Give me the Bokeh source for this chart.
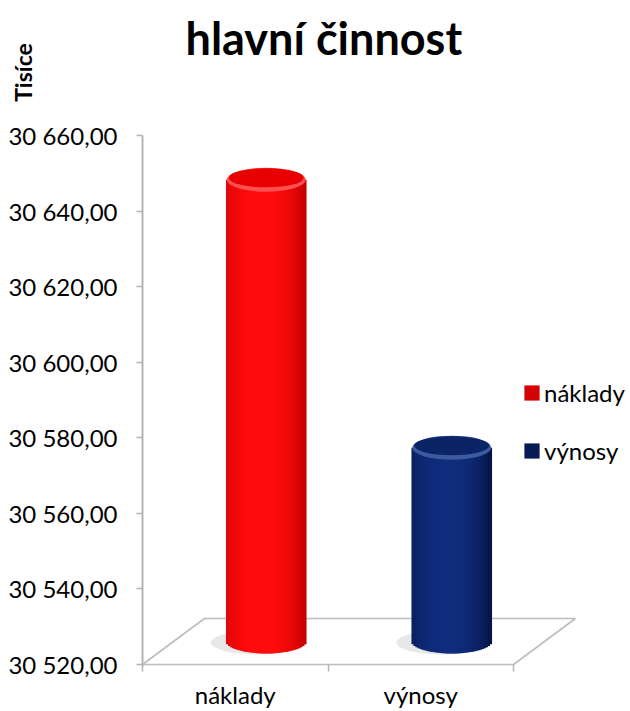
import math
from bokeh.plotting import figure
from bokeh.layouts import column
from bokeh.models import (Range1d, FixedTicker, Legend, LegendItem, ColumnDataSource,
                          Title)
from bokeh.embed import file_html
from bokeh.resources import INLINE

# ---------------- data ----------------
categories = ["náklady", "výnosy"]
values = [30642.2, 30571.3]
y_ticks = [30520, 30540, 30560, 30580, 30600, 30620, 30640, 30660]
title_text = "hlavní činnost"
unit_label = "Tisíce"
center_colors = [(255, 12, 12), (16, 44, 124)]
edge_colors = [(196, 0, 0), (3, 20, 70)]
top_colors = ["#E80000", "#0B2465"]
rim_colors = ["#FF5050", "#3C5A9E"]

FONT = "Lato"

# ---------------- layout ----------------
W, H = 630, 711
HT = 112                      # header figure (title + unit label)
HM = H - HT                   # main figure
B_L, B_T, B_R, B_B = 142, 23, 4, 45
frame_w = W - B_L - B_R
frame_h = HM - B_T - B_B
Y0, Y1 = y_ticks[0], y_ticks[-1]
px_per_y = (frame_h - 2) / (Y1 - Y0)
y_start = Y0 - 2 / px_per_y
px_per_x = 185.5
x_end = frame_w / px_per_x

DX = 62 / px_per_x          # floor depth (x)
DY = 46 / px_per_y          # floor depth (y)
BW = 79 / px_per_x          # cylinder width
EH = 24                     # ellipse height (screen px)

# ---------------- header: title + unit label ----------------
head = figure(width=W, height=HT, output_backend="svg", toolbar_location=None,
              x_range=Range1d(0, 1), y_range=Range1d(0, 1), x_axis_location=None,
              min_border_left=B_L, min_border_right=B_R, min_border_top=66,
              min_border_bottom=34, title=None)
head.outline_line_color = None
head.grid.visible = False
head.add_layout(Title(text=title_text, align="left", offset=43, standoff=4,
                      text_font=FONT, text_font_size="45px", text_font_style="bold",
                      text_color="#000000"), "above")
head.yaxis.ticker = FixedTicker(ticks=[])
head.yaxis.axis_line_color = None
head.yaxis.major_tick_line_color = None
head.yaxis.minor_tick_line_color = None
head.yaxis.axis_label = unit_label
head.yaxis.axis_label_standoff = 106
head.yaxis.axis_label_text_font = FONT
head.yaxis.axis_label_text_font_size = "23px"
head.yaxis.axis_label_text_font_style = "bold"
head.yaxis.axis_label_text_color = "#000000"

# ---------------- main chart ----------------
p = figure(width=W, height=HM, output_backend="svg", toolbar_location=None,
           x_range=Range1d(0, x_end), y_range=Range1d(y_start, Y1),
           min_border_left=B_L, min_border_top=B_T, min_border_right=B_R,
           min_border_bottom=B_B, title=None)
p.outline_line_color = None
p.grid.visible = False

n = len(categories)
p.patch(x=[0, n, n + DX, DX], y=[Y0, Y0, Y0 + DY, Y0 + DY],
        fill_color="white", line_color="#BDBDBD", line_width=1.6)

def mix(c1, c2, s):
    return "#%02x%02x%02x" % tuple(int(round(a + (b - a) * s)) for a, b in zip(c1, c2))

base = Y0 + DY / 2
N = 40
xs, ws, bots, tops, cols = [], [], [], [], []
for i, v in enumerate(values):
    cx = i + 0.5 + DX / 2
    for k in range(N):
        t = (k + 0.5) / N * 2 - 1
        s = min(1.0, abs(t + 0.12) / 1.12) ** 2.6
        xs.append(cx + t * BW / 2)
        ws.append(BW / N * 1.8)
        bots.append(base - (EH / 2 / px_per_y) * math.sqrt(max(0.0, 1 - t * t)))
        tops.append(v + DY / 2)
        cols.append(mix(center_colors[i], edge_colors[i], s))

cxs = [i + 0.5 + DX / 2 for i in range(n)]
tops_c = [v + DY / 2 for v in values]

# soft shadows on the floor
p.ellipse(x=[c - 9 / px_per_x for c in cxs], y=[base - 1 / px_per_y] * n,
          width=BW + 14 / px_per_x, height=EH, height_units="screen",
          fill_color="#8C8C8C", fill_alpha=0.2, line_color=None)

bars = p.vbar(source=ColumnDataSource(dict(x=xs, w=ws, b=bots, t=tops, c=cols)),
              x="x", width="w", bottom="b", top="t", fill_color="c", line_color=None)

# cylinder tops: light front rim + darker surface
p.ellipse(x=cxs, y=tops_c, width=BW, height=EH, height_units="screen",
          fill_color=rim_colors, line_color=None)
p.ellipse(x=cxs, y=[t + 2 / px_per_y for t in tops_c], width=BW - 4 / px_per_x,
          height=EH - 5, height_units="screen", fill_color=top_colors, line_color=None)

# axes
p.yaxis.ticker = FixedTicker(ticks=y_ticks)
p.yaxis.major_label_overrides = {
    t: f"{t:,.2f}".replace(",", " ").replace(".", ",") for t in y_ticks}
p.yaxis.axis_line_color = "#B4B4B4"
p.yaxis.axis_line_width = 2
p.yaxis.major_tick_line_color = "#B4B4B4"
p.yaxis.major_tick_line_width = 1.5
p.yaxis.major_tick_in = 0
p.yaxis.major_tick_out = 6
p.yaxis.minor_tick_line_color = None
p.yaxis.major_label_standoff = 19
p.yaxis.major_label_text_font = FONT
p.yaxis.major_label_text_font_size = "24px"
p.yaxis.major_label_text_color = "#000000"

p.xaxis.ticker = FixedTicker(ticks=[i + 0.5 for i in range(n)],
                             minor_ticks=list(range(n + 1)))
p.xaxis.major_label_overrides = {i + 0.5: c for i, c in enumerate(categories)}
p.xaxis.axis_line_color = None
p.xaxis.major_tick_line_color = None
p.xaxis.major_tick_out = 0
p.xaxis.major_tick_in = 0
p.xaxis.minor_tick_line_color = "#B4B4B4"
p.xaxis.minor_tick_line_width = 1.5
p.xaxis.minor_tick_in = 2
p.xaxis.minor_tick_out = 5
p.xaxis.major_label_standoff = 8
p.xaxis.major_label_text_font = FONT
p.xaxis.major_label_text_font_size = "24px"
p.xaxis.major_label_text_color = "#000000"

# legend (swatch colour taken from a darker strip of each cylinder)
items = [LegendItem(label=c, renderers=[bars], index=i * N + N - 3)
         for i, c in enumerate(categories)]
legend = Legend(items=items, location=(380, 201), glyph_width=19, glyph_height=19,
                label_text_font=FONT, label_text_font_size="24px",
                label_text_color="#000000", spacing=29, padding=0, margin=0,
                border_line_color=None, background_fill_alpha=0, label_standoff=3)
p.add_layout(legend)

open("out.html", "w").write(file_html(column(head, p, spacing=0), INLINE))
